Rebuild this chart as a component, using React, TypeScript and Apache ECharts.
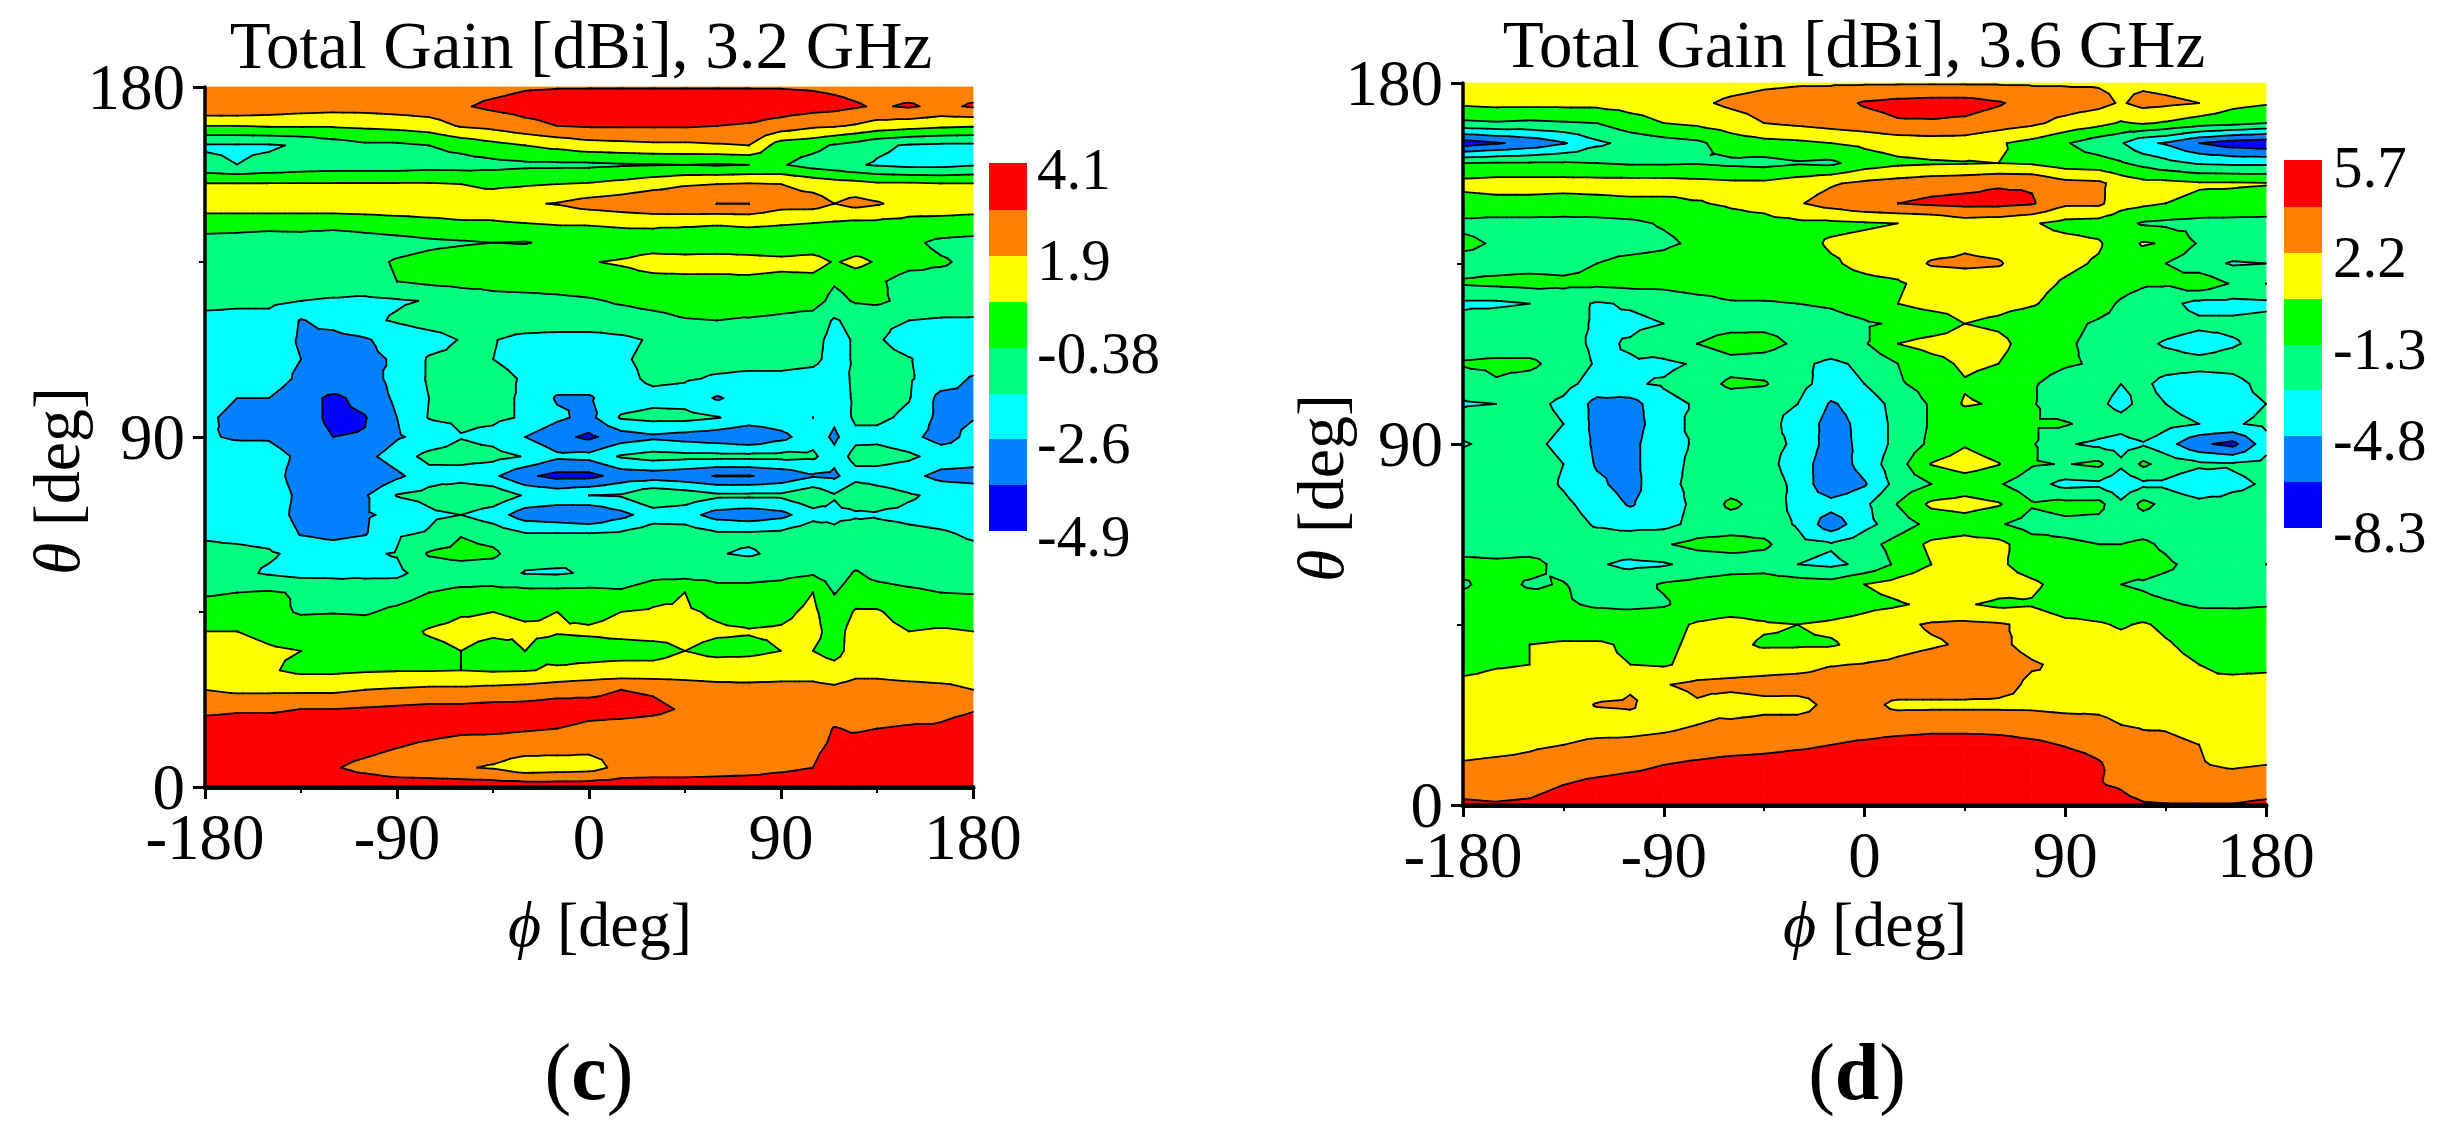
import React, { useEffect, useRef } from "react";
import * as echarts from "echarts";

// Grid positions.
const PHI = [-180,-165,-150,-135,-120,-105,-90,-75,-60,-45,-30,-15,0,15,30,45,60,75,90,105,115,125,135,150,165,180];
const THETA = [180,175,170,165,160,155,150,145,140,135,130,125,120,115,110,105,100,95,90,85,80,75,70,65,60,55,50,45,40,35,30,25,20,15,10,5,0];

// Values are positions on the colour scale: 0 = bottom of the bar, 8 = top of the bar.
const GAIN_32 = [
[6.5,6.5,6.5,6.5,6.5,6.5,6.5,6.5,6.6,6.7,6.9,6.95,6.95,6.95,6.95,6.95,6.95,6.95,6.95,6.9,6.8,6.7,6.6,6.6,6.6,6.6],
[6.9,6.9,6.7,6.5,6.4,6.4,6.5,6.6,6.9,7.2,7.4,7.5,7.6,7.6,7.6,7.6,7.6,7.6,7.5,7.4,7.3,7.1,6.9,7.1,6.8,7.1],
[5.0,5.0,5.1,5.1,5.1,5.2,5.3,5.5,6.1,6.3,6.7,7.0,7.1,7.1,7.1,7.1,7.0,6.9,6.6,6.2,6.1,5.9,5.6,5.4,5.2,5.1],
[2.9,2.9,2.9,3.1,3.5,3.8,3.8,4.0,4.3,4.7,5.0,5.3,5.6,5.7,5.8,5.8,5.9,6.0,4.5,4.3,3.9,3.6,3.2,2.9,2.8,2.8],
[3.2,3.0,3.2,3.4,3.5,3.5,3.5,3.6,3.6,3.7,3.8,3.8,3.8,3.9,3.95,4.0,3.9,4.0,4.1,3.6,3.4,3.1,2.9,2.7,2.7,2.9],
[5.1,5.1,5.1,5.1,5.1,5.1,5.1,5.1,5.0,4.8,4.9,5.0,5.1,5.3,5.6,5.9,6.0,6.1,6.0,5.7,5.5,5.4,5.2,5.2,5.1,5.1],
[5.5,5.5,5.5,5.5,5.5,5.5,5.5,5.5,5.5,5.6,5.9,6.05,6.4,6.6,6.9,6.95,7.0,7.0,6.4,6.4,6.0,6.3,6.1,5.6,5.5,5.5],
[4.5,4.5,4.5,4.5,4.5,4.6,4.7,4.8,4.9,4.9,5.0,5.1,5.1,5.2,5.2,5.2,5.1,5.2,5.1,5.0,4.9,4.8,4.8,4.7,4.7,4.6],
[3.6,3.5,3.3,3.4,3.1,3.4,3.6,3.8,3.9,4.0,3.95,4.2,4.3,4.4,4.5,4.2,4.3,4.3,4.2,4.2,4.0,4.3,4.4,4.2,3.8,3.7],
[3.6,3.6,3.6,3.6,3.6,3.7,4.1,4.3,4.5,4.6,4.6,4.7,4.95,5.1,5.4,5.5,5.5,5.4,5.3,5.5,4.9,5.3,4.9,4.4,4.1,3.8],
[3.5,3.5,3.5,3.5,3.5,3.6,4.0,4.2,4.3,4.3,4.4,4.4,4.5,4.6,4.7,4.7,4.7,4.8,4.7,4.6,4.1,4.4,4.2,3.5,3.7,3.7],
[3.3,3.2,3.2,3.0,2.9,2.8,2.9,3.05,3.4,3.7,3.7,3.8,3.9,4.1,4.3,4.4,4.4,4.6,4.4,4.4,3.7,4.1,4.2,3.7,3.6,3.5],
[2.7,2.7,2.7,1.95,2.3,2.8,3.1,3.4,3.5,3.6,3.6,3.6,3.6,3.6,3.7,3.95,4.0,3.9,3.8,3.6,2.9,3.3,3.2,3.0,2.9,2.9],
[2.6,2.6,2.5,1.9,1.7,1.9,2.4,2.6,3.05,3.05,2.7,2.6,2.6,2.8,3.1,3.3,3.0,3.1,3.05,3.3,2.7,3.1,3.1,2.6,2.6,2.6],
[2.5,2.5,2.4,2.0,1.6,1.8,2.1,3.1,3.2,3.0,2.7,2.8,2.7,2.9,3.2,3.3,3.3,3.3,3.3,3.2,2.7,3.1,3.3,3.05,2.6,2.5],
[2.5,2.4,2.5,1.8,1.7,1.6,2.3,3.1,3.3,3.3,2.9,2.5,2.5,2.7,3.2,3.1,2.9,2.8,2.8,2.7,2.5,3.2,3.3,3.1,2.5,1.9],
[2.5,2.0,2.0,1.4,0.8,1.3,2.2,3.0,3.2,3.2,2.9,1.9,1.9,2.5,2.7,2.6,1.9,2.4,2.5,2.6,2.5,3.15,3.4,3.05,1.7,1.9],
[2.2,1.7,1.8,1.4,0.8,0.95,2.0,3.05,3.2,3.2,2.9,2.2,1.7,3.1,3.3,3.3,3.05,2.6,2.6,3.0,2.2,3.2,3.2,2.8,1.7,1.95],
[2.1,1.9,1.9,1.4,1.0,1.05,1.9,2.3,2.95,2.7,2.0,1.3,0.8,1.5,1.8,1.6,1.4,1.1,1.7,2.6,1.8,2.7,2.7,2.3,1.6,2.3],
[2.5,2.5,2.4,1.8,1.4,1.7,2.5,3.3,3.4,3.3,2.95,2.2,2.3,3.1,3.4,3.3,3.3,3.3,3.3,3.2,2.3,3.4,3.5,3.2,2.6,2.5],
[2.5,2.5,2.4,1.6,1.0,1.0,1.8,2.6,2.5,2.2,1.2,0.7,0.7,1.4,1.5,1.3,0.95,0.95,1.3,1.9,1.8,2.6,2.5,2.3,1.7,1.6],
[2.6,2.6,2.5,1.8,1.5,1.9,3.05,3.3,3.9,3.7,2.9,2.7,3.0,3.1,3.9,3.6,3.2,3.2,3.2,3.8,3.1,3.9,3.5,3.1,2.8,2.6],
[2.6,2.6,2.5,1.7,1.5,1.9,2.2,2.8,3.0,2.5,1.5,1.3,1.0,1.7,2.5,2.4,1.6,1.4,1.7,2.6,2.7,2.8,2.9,2.8,2.7,2.6],
[2.9,2.8,2.7,1.95,1.7,1.95,2.9,3.1,3.95,3.6,3.1,3.1,3.1,3.2,3.6,3.6,3.2,3.2,3.3,3.8,3.3,3.9,3.4,3.2,3.1,2.9],
[3.2,3.2,3.1,2.8,2.7,2.9,3.05,4.1,4.3,4.2,3.3,3.3,3.05,3.0,3.2,3.3,3.05,2.9,3.2,3.3,3.3,3.4,3.4,3.4,3.3,3.2],
[3.4,3.2,2.9,2.7,2.7,2.8,2.8,3.4,3.5,3.4,2.95,2.9,3.1,3.1,3.6,3.6,3.6,3.6,3.7,3.9,3.5,4.1,3.7,3.5,3.4,3.3],
[3.9,4.0,4.1,3.9,3.8,3.5,3.6,4.0,4.2,4.3,4.3,4.3,4.3,4.2,4.7,5.0,4.4,4.4,4.5,5.0,3.95,4.5,4.4,4.2,4.0,3.95],
[4.4,4.4,4.3,3.9,3.95,3.9,4.2,4.5,4.9,5.0,4.9,5.0,4.8,5.0,5.1,5.1,4.9,4.7,4.8,5.2,4.4,5.1,5.1,4.6,4.5,4.6],
[5.0,5.0,4.8,4.6,4.6,4.5,4.6,5.1,5.3,5.2,5.1,5.05,5.1,5.2,5.3,5.2,5.1,5.05,5.1,5.3,4.6,5.4,5.3,5.0,5.1,5.0],
[5.4,5.3,5.1,5.0,4.7,4.6,4.6,4.7,5.0,4.6,5.0,4.7,4.7,4.7,4.7,5.0,4.8,4.8,5.0,5.0,4.6,5.5,5.5,5.3,5.2,5.3],
[5.6,5.5,5.1,4.8,4.8,4.9,4.95,4.95,5.0,4.9,4.95,5.1,5.2,5.3,5.3,5.4,5.4,5.5,5.6,5.6,5.4,5.7,5.7,5.6,5.6,5.6],
[6.0,5.8,5.8,5.8,5.8,6.0,6.1,6.2,6.2,6.3,6.4,6.6,6.8,7.0,6.9,6.6,6.4,6.3,6.3,6.3,6.2,6.4,6.4,6.3,6.2,6.0],
[6.8,6.9,6.9,7.0,7.0,7.1,7.2,7.3,7.3,7.4,7.4,7.5,7.3,7.3,7.2,6.9,6.7,6.6,6.5,6.5,6.5,6.5,6.5,6.6,6.8,6.95],
[7.4,7.4,7.4,7.4,7.4,7.4,7.4,7.3,7.2,7.2,7.1,7.0,6.8,6.7,6.6,6.5,6.5,6.5,6.5,6.5,7.05,6.9,7.0,7.1,7.1,7.3],
[7.5,7.5,7.5,7.5,7.5,7.3,7.0,6.8,6.6,6.5,6.4,6.3,6.2,6.3,6.4,6.4,6.4,6.4,6.4,6.8,7.2,7.4,7.4,7.5,7.5,7.5],
[7.6,7.6,7.5,7.4,7.1,6.7,6.4,6.3,6.1,5.9,5.4,5.5,5.6,6.3,6.4,6.4,6.5,6.6,6.8,7.0,7.5,7.6,7.6,7.6,7.6,7.6],
[7.7,7.7,7.7,7.7,7.7,7.7,7.6,7.6,7.6,7.6,7.6,7.6,7.6,7.6,7.6,7.6,7.6,7.6,7.6,7.7,7.7,7.7,7.7,7.7,7.7,7.7],
];

const GAIN_36 = [
[5.4,5.4,5.4,5.4,5.4,5.4,5.4,5.4,5.6,5.8,5.9,5.9,5.9,5.9,5.9,5.9,5.9,5.9,5.9,5.9,5.8,5.8,5.7,5.5,5.4,5.4],
[5.2,5.3,5.3,5.3,5.3,5.4,5.5,5.8,6.2,6.4,6.5,6.6,7.1,7.3,7.4,7.4,7.1,6.6,6.5,6.3,5.9,6.3,6.2,6.0,5.3,5.1],
[3.8,3.9,3.8,3.9,4.0,4.6,5.0,5.2,5.5,6.0,6.2,6.4,6.6,6.9,6.9,6.8,6.5,6.2,5.7,5.3,4.9,5.1,4.9,4.5,4.3,4.0],
[0.5,0.9,1.3,1.9,2.8,3.3,3.6,3.8,4.5,4.7,4.8,5.0,5.2,5.4,5.5,5.5,5.1,4.7,4.1,3.4,3.1,2.2,1.9,1.0,0.5,0.3],
[4.0,4.1,4.1,4.1,4.0,3.9,3.9,3.95,3.8,3.7,3.9,3.8,4.5,4.8,4.9,4.95,5.0,4.9,4.5,4.4,4.1,3.7,3.3,2.9,2.8,2.8],
[5.3,5.4,5.4,5.4,5.4,5.4,5.4,5.3,5.2,5.2,5.5,5.9,6.2,6.4,6.6,6.7,6.9,6.9,6.3,6.2,5.6,5.3,5.3,5.1,5.1,5.05],
[4.6,4.7,4.7,4.6,4.7,4.8,4.8,4.95,5.1,5.3,5.9,6.4,6.8,7.0,7.2,7.3,7.3,7.1,6.2,6.2,5.4,5.2,5.0,4.8,4.7,4.6],
[3.8,3.7,3.7,3.7,3.7,3.8,4.1,4.4,4.7,4.7,4.8,4.8,4.9,5.0,5.05,5.5,5.4,5.1,4.7,4.6,4.3,3.9,3.8,3.7,3.7,3.7],
[4.2,3.9,3.6,3.6,3.6,3.6,3.8,4.2,4.4,4.5,4.7,5.1,5.2,5.3,5.5,5.8,5.6,5.4,5.3,5.1,4.5,5.1,4.9,3.9,3.8,3.8],
[3.7,3.7,3.7,3.7,4.0,4.3,4.4,4.9,4.9,4.5,4.6,4.9,5.2,5.4,6.1,6.2,6.1,5.4,5.2,4.9,4.6,4.3,4.0,3.4,2.9,3.0],
[4.1,4.2,4.3,4.2,4.2,4.3,4.3,4.5,4.5,4.6,4.6,4.7,4.8,4.9,5.3,5.4,5.4,5.3,4.9,4.6,4.3,4.1,4.1,4.7,3.9,4.0],
[2.8,2.8,3.0,3.4,2.9,3.1,3.3,3.6,3.9,3.9,4.0,4.1,4.4,5.0,5.4,5.4,5.3,5.1,4.6,4.3,3.9,3.6,3.3,2.7,2.7,2.8],
[3.4,3.8,3.9,3.3,2.9,2.8,3.0,3.5,3.6,3.7,3.6,3.7,3.9,4.1,4.3,5.0,4.8,4.4,4.2,3.9,3.8,3.6,3.4,3.2,3.2,3.3],
[3.5,3.5,3.5,3.4,2.8,3.1,3.6,4.0,4.5,4.4,3.8,3.6,3.9,5.0,5.4,5.5,5.3,4.5,4.1,3.8,3.6,3.2,2.9,2.6,2.9,3.3],
[4.1,4.2,4.2,3.6,2.9,2.9,2.8,3.1,3.6,3.5,3.2,2.8,3.2,4.0,4.6,5.2,5.0,4.4,4.1,3.9,3.5,3.5,3.4,3.3,3.4,3.9],
[3.4,3.9,3.6,3.3,2.6,2.9,3.1,3.5,4.2,4.1,3.3,2.6,3.0,3.9,4.3,4.9,4.6,4.1,3.6,3.4,3.0,3.2,2.7,2.5,2.6,3.4],
[2.9,3.0,3.3,2.8,1.7,1.6,2.7,3.1,3.4,3.2,3.0,1.9,2.4,3.4,4.1,5.1,4.9,4.1,3.3,3.2,2.7,3.3,3.0,2.6,2.6,3.0],
[3.4,3.95,3.4,3.0,1.7,1.6,2.5,3.3,3.4,3.3,2.7,1.6,2.3,3.3,4.1,4.3,4.2,4.1,4.1,3.6,3.4,3.9,3.3,3.0,2.9,3.2],
[2.9,3.3,3.2,2.8,1.8,1.7,2.7,3.1,3.4,3.2,2.9,1.5,2.3,3.3,4.2,4.9,4.4,4.1,3.1,2.8,2.6,2.9,2.4,1.2,0.7,2.6],
[3.5,3.9,3.4,3.0,1.9,1.7,2.7,3.2,3.3,3.3,2.6,1.3,2.4,3.6,5.05,5.5,5.05,4.1,3.95,4.2,3.2,4.2,3.6,3.2,3.1,3.3],
[3.4,3.5,3.5,2.9,2.2,1.6,2.8,3.2,3.5,3.4,2.8,1.1,1.9,3.4,4.0,4.4,4.1,3.4,2.7,2.8,2.3,2.8,2.8,2.2,2.8,3.1],
[3.5,3.5,3.6,3.2,2.6,1.9,2.6,3.2,4.2,3.6,2.7,2.4,2.8,4.05,5.2,5.4,5.1,4.1,4.3,4.3,3.2,4.3,3.7,3.3,3.3,3.3],
[3.5,3.5,3.5,3.4,2.9,2.7,2.7,3.3,3.5,3.5,2.9,1.4,2.7,3.5,4.3,4.5,4.1,3.6,3.8,3.7,3.4,3.4,3.3,3.3,3.3,3.3],
[3.5,3.5,3.5,3.5,3.5,3.6,3.9,4.3,4.4,4.2,3.3,3.1,3.6,4.4,5.2,5.4,5.3,4.4,4.1,4.0,4.0,4.2,3.8,3.0,3.0,3.4],
[4.3,4.2,4.3,3.7,3.1,2.8,2.9,3.3,3.5,3.5,3.0,2.8,3.2,4.2,5.0,5.3,5.2,4.5,4.2,4.2,4.1,4.4,4.2,3.6,3.6,4.0],
[3.9,4.3,3.9,4.05,3.6,3.6,4.1,4.3,4.5,4.6,4.5,4.4,5.0,5.4,5.8,5.9,5.5,5.2,4.6,4.3,4.0,3.9,3.7,3.6,3.6,3.9],
[4.3,4.4,4.4,4.1,3.9,3.8,3.9,4.4,4.5,4.5,4.0,4.3,4.7,4.9,5.2,5.1,4.8,4.9,4.4,4.4,4.3,4.2,4.1,3.9,3.9,3.95],
[4.5,4.5,4.5,4.5,4.5,4.6,4.7,5.1,5.3,5.1,5.0,5.2,5.4,5.8,6.1,6.2,6.1,5.8,5.3,5.1,4.9,5.1,4.8,4.5,4.4,4.4],
[4.6,4.9,5.0,5.1,5.1,4.9,4.8,5.2,5.2,4.9,4.9,4.9,5.3,5.7,5.9,6.1,6.2,5.7,5.4,5.4,5.3,5.4,5.1,4.7,4.5,4.5],
[4.6,4.9,5.0,5.1,5.1,5.0,4.9,5.3,5.4,5.5,5.6,5.95,6.05,6.2,6.4,6.6,6.5,6.1,5.8,5.6,5.5,5.5,5.3,5.0,4.8,4.8],
[5.3,5.4,5.4,5.4,5.5,5.9,5.95,6.2,6.3,6.4,6.5,6.5,6.5,6.6,6.6,6.6,6.4,5.8,5.9,5.6,5.5,5.5,5.4,5.1,5.2,5.3],
[5.5,5.5,5.5,5.6,6.05,6.1,5.5,5.9,5.5,5.7,5.6,6.3,6.3,5.8,5.8,5.8,5.8,5.8,5.7,5.8,5.7,5.6,5.6,5.5,5.5,5.5],
[5.3,5.4,5.5,5.6,5.6,5.7,5.8,6.0,6.2,6.3,6.4,6.4,6.4,6.5,6.6,6.6,6.6,6.5,6.4,6.2,6.0,5.9,5.9,5.7,5.5,5.5],
[5.6,5.7,5.9,6.0,6.2,6.2,6.3,6.4,6.5,6.6,6.8,7.0,7.2,7.4,7.5,7.5,7.4,7.2,6.95,6.7,6.5,6.3,6.2,6.0,5.7,5.7],
[6.1,6.2,6.2,6.4,6.5,6.7,7.0,7.2,7.4,7.5,7.6,7.6,7.7,7.7,7.7,7.7,7.7,7.6,7.5,7.1,6.6,6.3,6.2,6.05,5.9,6.0],
[6.5,6.5,6.6,7.0,7.3,7.5,7.6,7.7,7.7,7.7,7.7,7.7,7.7,7.7,7.7,7.7,7.7,7.7,7.6,7.05,6.9,6.5,6.5,6.4,6.4,6.5],
[7.2,7.1,7.2,7.6,7.8,7.8,7.8,7.8,7.8,7.8,7.8,7.8,7.8,7.8,7.8,7.8,7.8,7.8,7.8,7.6,7.3,7.1,7.05,7.05,7.05,7.2],
];

const BAND_COLORS = ["#0000ff","#0080ff","#00ffff","#00ff80","#00ff00","#ffff00","#ff8000","#ff0000"];
const LABELS_32 = ["4.1","1.9","-0.38","-2.6","-4.9"];
const LABELS_36 = ["5.7","2.2","-1.3","-4.8","-8.3"];
const TICKS = { phi: [-180, 180, 90], theta: [0, 180, 90] };

const SERIF = '"Liberation Serif", "Times New Roman", serif';

type V = [number, number, number];
function clipAbove(poly: V[], lv: number, above: boolean): V[] {
  const out: V[] = [];
  const ins = (p: V) => (above ? p[2] >= lv : p[2] <= lv);
  for (let i = 0; i < poly.length; i++) {
    const a = poly[i];
    const b = poly[(i + 1) % poly.length];
    const ia = ins(a);
    const ib = ins(b);
    if (ia) out.push(a);
    if (ia !== ib) {
      const t = (lv - a[2]) / (b[2] - a[2]);
      out.push([a[0] + t * (b[0] - a[0]), a[1] + t * (b[1] - a[1]), lv]);
    }
  }
  return out;
}
const bandOf = (v: number) => Math.max(0, Math.min(7, Math.floor(v)));

function buildContours(rows: number[][]) {
  const polys: { pts: number[][]; band: number }[] = [];
  const segs: number[][][] = [];
  const val = (i: number, j: number) => {
    const r = rows[j];
    const v = r[i] ?? r[r.length - 1];
    return Number.isInteger(v) ? v + 0.001 : v;
  };
  for (let j = 0; j < THETA.length - 1; j++) {
    for (let i = 0; i < PHI.length - 1; i++) {
      const a: V = [PHI[i], THETA[j], val(i, j)];
      const b: V = [PHI[i + 1], THETA[j], val(i + 1, j)];
      const c: V = [PHI[i + 1], THETA[j + 1], val(i + 1, j + 1)];
      const d: V = [PHI[i], THETA[j + 1], val(i, j + 1)];
      const m: V = [(a[0] + b[0]) / 2, (a[1] + d[1]) / 2, (a[2] + b[2] + c[2] + d[2]) / 4];
      const bs = [a, b, c, d].map((p) => bandOf(p[2]));
      const lo = Math.min(...bs);
      const hi = Math.max(...bs);
      if (lo === hi) {
        polys.push({ pts: [a, b, c, d].map((p) => [p[0], p[1]]), band: lo });
        continue;
      }
      const tris: V[][] = [[a, b, m], [b, c, m], [c, d, m], [d, a, m]];
      for (const tri of tris) {
        for (let band = lo; band <= hi; band++) {
          let p: V[] = tri;
          if (band > 0) p = clipAbove(p, band, true);
          if (p.length && band < 7) p = clipAbove(p, band + 1, false);
          if (p.length >= 3) polys.push({ pts: p.map((q) => [q[0], q[1]]), band });
        }
        for (let lv = lo + 1; lv <= hi; lv++) {
          const cross: number[][] = [];
          for (let k = 0; k < 3; k++) {
            const p = tri[k];
            const q = tri[(k + 1) % 3];
            if (p[2] < lv !== q[2] < lv) {
              const t = (lv - p[2]) / (q[2] - p[2]);
              cross.push([p[0] + t * (q[0] - p[0]), p[1] + t * (q[1] - p[1])]);
            }
          }
          if (cross.length === 2) segs.push(cross);
        }
      }
    }
  }
  return { polys, segs };
}

function panelSeries(rows: number[][], index: number) {
  const { polys, segs } = buildContours(rows);
  return [
    {
      type: "custom",
      coordinateSystem: "cartesian2d",
      xAxisIndex: index,
      yAxisIndex: index,
      silent: true,
      z: 2,
      encode: { x: 0, y: 1 },
      data: polys.map((p) => [p.pts[0][0], p.pts[0][1]]),
      renderItem: (params: any, api: any) => {
        const p = polys[params.dataIndex];
        const col = BAND_COLORS[p.band];
        return {
          type: "polygon",
          shape: { points: p.pts.map((q) => api.coord(q)) },
          style: { fill: col, stroke: col, lineWidth: 0.8 },
        };
      },
    },
    {
      type: "custom",
      coordinateSystem: "cartesian2d",
      xAxisIndex: index,
      yAxisIndex: index,
      silent: true,
      z: 3,
      encode: { x: 0, y: 1 },
      data: segs.map((s) => [s[0][0], s[0][1]]),
      renderItem: (params: any, api: any) => {
        const s = segs[params.dataIndex];
        const a = api.coord(s[0]);
        const b = api.coord(s[1]);
        return {
          type: "line",
          shape: { x1: a[0], y1: a[1], x2: b[0], y2: b[1] },
          style: { stroke: "#000", lineWidth: 1.8, lineCap: "round", fill: "none" },
        };
      },
    },
  ];
}

function axisBase(range: number[], index: number, lineW: number, size: number, margin: number) {
  return {
    type: "value",
    gridIndex: index,
    min: range[0],
    max: range[1],
    interval: range[2],
    z: 10,
    splitLine: { show: false },
    axisLine: { show: true, onZero: false, lineStyle: { color: "#000", width: lineW } },
    axisTick: { show: true, length: 12, lineStyle: { color: "#000", width: 3 } },
    minorTick: { show: true, splitNumber: 2, length: 6, lineStyle: { color: "#000", width: 2 } },
    axisLabel: { color: "#000", fontFamily: SERIF, fontSize: size, margin, hideOverlap: false },
  };
}

function text(x: number, y: number, s: string, size: number, extra: any = {}) {
  return {
    type: "text",
    x,
    y,
    z: 20,
    ...extra,
    style: {
      text: s,
      fill: "#000",
      fontFamily: SERIF,
      fontSize: size,
      align: "center",
      textAlign: "center",
      verticalAlign: "middle",
      textVerticalAlign: "middle",
      ...(extra.style || {}),
    },
  };
}

const greekRich = (size: number) => ({
  i: { fontFamily: SERIF, fontStyle: "italic", fontSize: size, fill: "#000" },
  r: { fontFamily: SERIF, fontSize: size, fill: "#000" },
});
const panelRich = {
  r: { fontFamily: SERIF, fontSize: 80, fill: "#000" },
  b: { fontFamily: SERIF, fontWeight: "bold", fontSize: 80, fill: "#000" },
};

function colorBar(x: number, w: number, ys: number[], labels: string[], labelX: number, labelYs: number[], size: number) {
  const out: any[] = [];
  BAND_COLORS.slice().reverse().forEach((col, k) => {
    out.push({ type: "rect", z: 20, shape: { x, y: ys[k], width: w, height: ys[k + 1] - ys[k] }, style: { fill: col } });
  });
  labels.forEach((l, k) => {
    out.push(text(labelX, labelYs[k], l, size, { style: { align: "left", textAlign: "left" } }));
  });
  return out;
}

export default function App() {
  const ref = useRef<HTMLDivElement>(null);
  useEffect(() => {
    document.body.style.margin = "0";
    const chart = echarts.init(ref.current!, undefined, { renderer: "svg" });
    const graphic = [
      text(581, 45, "Total Gain [dBi], 3.2 GHz", 67),
      text(1854, 44, "Total Gain [dBi], 3.6 GHz", 67),
      text(600, 924, "{i|ϕ}{r| [deg]}", 64, { style: { rich: greekRich(64) } }),
      text(1875, 924, "{i|ϕ}{r| [deg]}", 64, { style: { rich: greekRich(64) } }),
      text(56, 481, "{i|θ}{r| [deg]}", 66, { rotation: Math.PI / 2, style: { rich: greekRich(66) } }),
      text(1320, 488, "{i|θ}{r| [deg]}", 66, { rotation: Math.PI / 2, style: { rich: greekRich(66) } }),
      text(589, 1072, "{r|(}{b|c}{r|)}", 80, { style: { rich: panelRich } }),
      text(1857, 1072, "{r|(}{b|d}{r|)}", 80, { style: { rich: panelRich } }),
      ...colorBar(989, 38, [163, 210, 256, 302, 348, 394, 439, 485, 531], LABELS_32, 1037, [169, 260, 353, 443, 536], 59),
      ...colorBar(2284, 38, [160, 207, 253, 299, 345, 390, 436, 482, 528], LABELS_36, 2333, [167, 257, 349, 440, 532], 59),
    ];
    chart.setOption({
      animation: false,
      backgroundColor: "#fff",
      grid: [
        { left: 205, top: 87, width: 768, height: 700 },
        { left: 1463, top: 83, width: 803, height: 722 },
      ],
      xAxis: [
        { ...axisBase(TICKS.phi, 0, 5, 65, 17) },
        { ...axisBase(TICKS.phi, 1, 5, 65, 17) },
      ],
      yAxis: [
        { ...axisBase(TICKS.theta, 0, 3.5, 65, 20) },
        { ...axisBase(TICKS.theta, 1, 3.5, 65, 20) },
      ],
      series: [...panelSeries(GAIN_32, 0), ...panelSeries(GAIN_36, 1)],
      graphic,
    });
    return () => chart.dispose();
  }, []);
  return <div ref={ref} style={{ position: "absolute", left: 0, top: 0, width: 2448, height: 1135, overflow: "hidden" }} />;
}
